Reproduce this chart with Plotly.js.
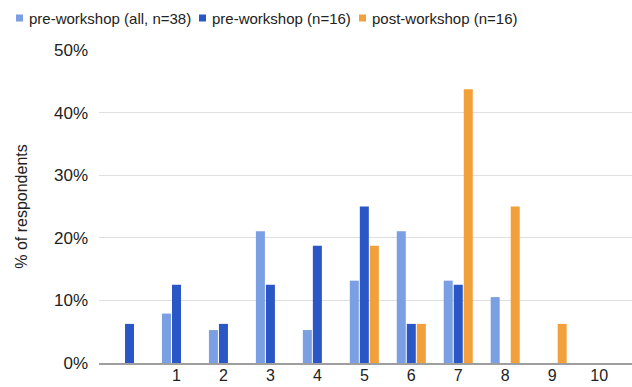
<!DOCTYPE html>
<html>
<head>
<meta charset="utf-8">
<script src="https://cdn.plot.ly/plotly-3.0.1.min.js"></script>
<style>html,body{margin:0;padding:0;background:#fff;}#chart{width:632px;height:387px;}</style>
</head>
<body>
<div id="chart"></div>
<script>
// Categories (first group has no label)
const categories = ["0", "1", "2", "3", "4", "5", "6", "7", "8", "9", "10"];
const tickLabels = ["", "1", "2", "3", "4", "5", "6", "7", "8", "9", "10"];
// Share of respondents (fractions)
const preAll38 = [0, 3/38, 2/38, 8/38, 2/38, 5/38, 8/38, 5/38, 4/38, 0, 0];
const pre16   = [1/16, 2/16, 1/16, 2/16, 3/16, 4/16, 1/16, 2/16, 0, 0, 0];
const post16  = [0, 0, 0, 0, 0, 3/16, 1/16, 7/16, 4/16, 1/16, 0];
const seriesNames = ["pre-workshop (all, n=38)", "pre-workshop (n=16)", "post-workshop (n=16)"];
const seriesColors = ["#7a9fe3", "#2a56c6", "#f2a03b"];
const yTickVals = [0, 0.1, 0.2, 0.3, 0.4, 0.5];
const yTickText = ["0%", "10%", "20%", "30%", "40%", "50%"];

const W = 632, H = 387;
const M = {l: 99, r: 0, t: 50, b: 24};
const plotW = W - M.l - M.r, plotH = H - M.t - M.b;
const px2x = p => (p - M.l) / plotW;          // pixel -> paper x
const py2y = p => (H - M.b - p) / plotH;      // pixel -> paper y

const xIdx = categories.map((c, i) => i);
const series = [preAll38, pre16, post16];
const traces = series.map((vals, k) => ({
  type: "bar",
  x: xIdx,
  y: vals,
  name: seriesNames[k],
  marker: {color: seriesColors[k]},
  hoverinfo: "none",
  showlegend: false
}));

// Legend drawn as small squares + labels along the top
const legendSquareX = [16, 199, 359];
const legendTextX = [27, 210, 370];
const legendY = 18;
const shapes = [];
const annotations = [];
const font = "Arial, 'Liberation Sans', sans-serif";
seriesNames.forEach((n, k) => {
  shapes.push({
    type: "rect", xref: "paper", yref: "paper",
    x0: px2x(legendSquareX[k]), x1: px2x(legendSquareX[k] + 7),
    y0: py2y(legendY + 3.5), y1: py2y(legendY - 3.5),
    fillcolor: seriesColors[k], line: {width: 0}
  });
  annotations.push({
    xref: "paper", yref: "paper",
    x: px2x(legendTextX[k]), y: py2y(legendY),
    xanchor: "left", yanchor: "middle",
    text: n, showarrow: false,
    font: {family: font, size: 15, color: "#222"}
  });
});

const layout = {
  width: W, height: H,
  margin: M,
  paper_bgcolor: "#fff", plot_bgcolor: "#fff",
  barmode: "group",
  bargap: 0.36,
  bargroupgap: 0.1,
  font: {family: font, size: 16, color: "#222"},
  showlegend: false,
  shapes: shapes,
  annotations: annotations,
  xaxis: {
    range: [-0.65, 10.7],
    tickmode: "array", tickvals: xIdx, ticktext: tickLabels,
    showgrid: false, zeroline: false,
    showline: true, linecolor: "#9e9e9e", linewidth: 1.5,
    ticks: "", ticklabelstandoff: -3,
    tickfont: {family: font, size: 16, color: "#222"},
    automargin: false,
    fixedrange: true
  },
  yaxis: {
    range: [0, 0.5],
    tickmode: "array", tickvals: yTickVals, ticktext: yTickText,
    showgrid: true, gridcolor: "#e0e0e0", gridwidth: 1,
    zeroline: false, showline: false, ticks: "",
    ticklen: 0, ticklabelstandoff: 10,
    tickfont: {family: font, size: 17, color: "#222"},
    title: {text: "% of respondents", font: {family: font, size: 16, color: "#222"}, standoff: 22},
    automargin: false,
    fixedrange: true
  }
};

Plotly.newPlot("chart", traces, layout, {displayModeBar: false, staticPlot: true});
</script>
</body>
</html>
